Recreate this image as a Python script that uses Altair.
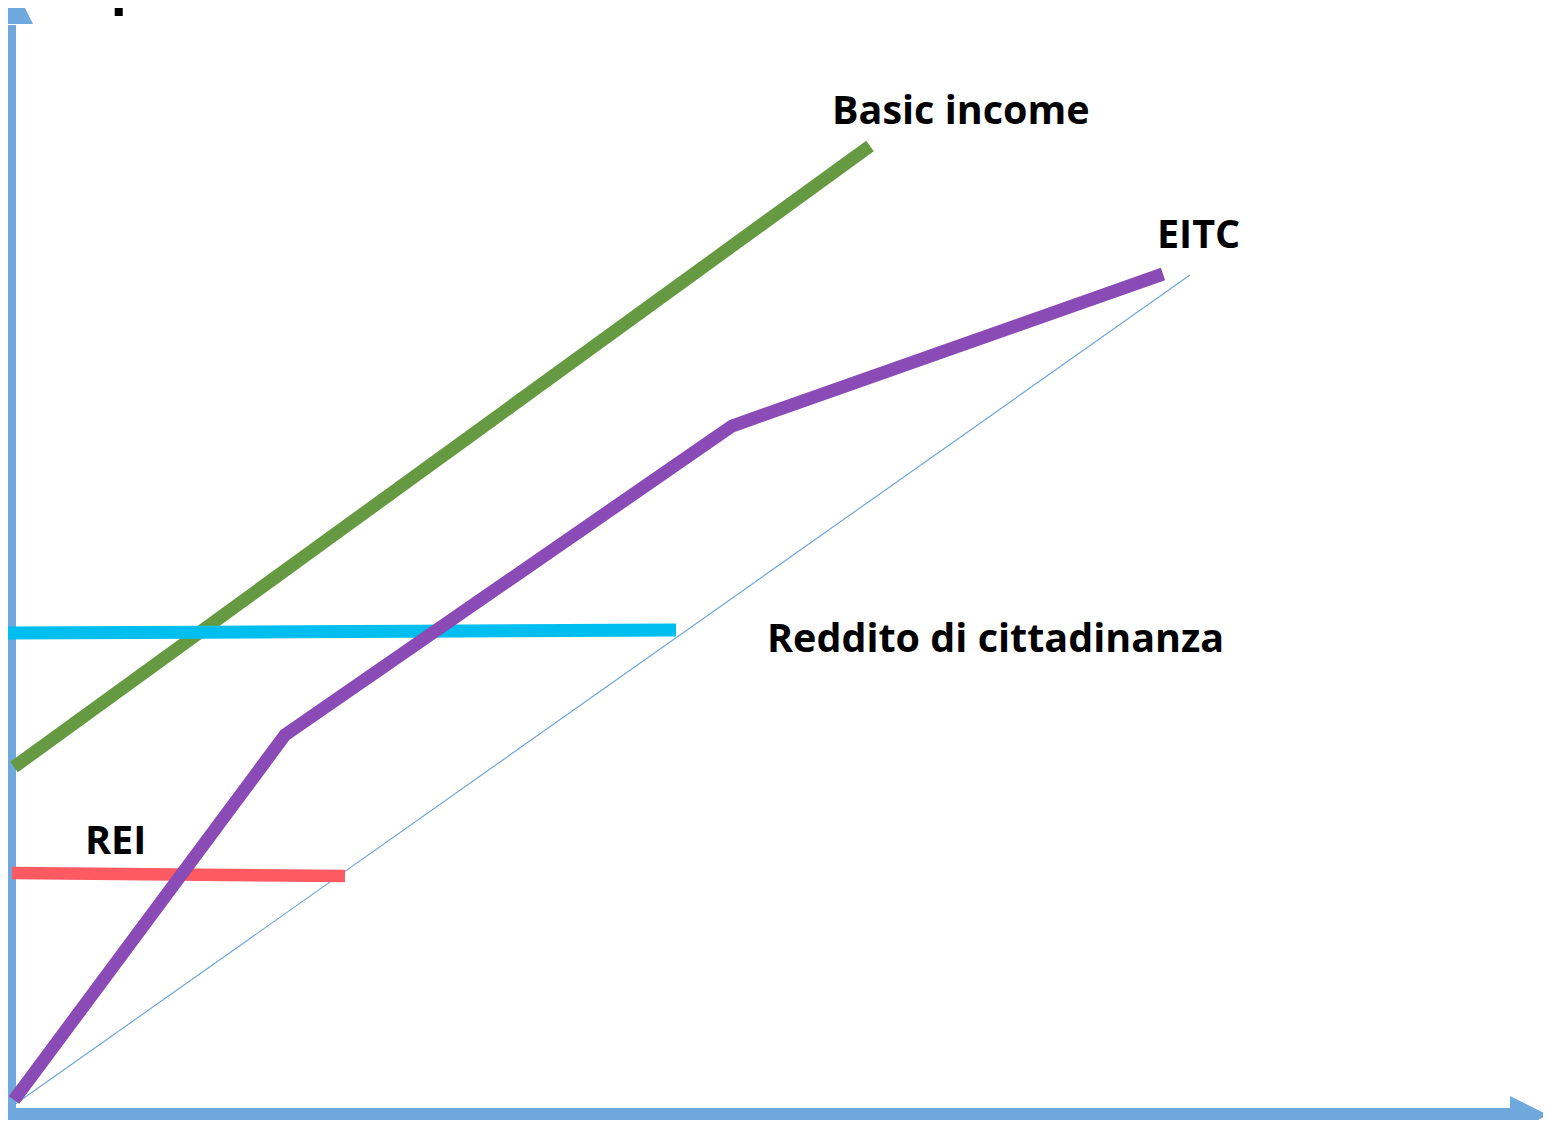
import altair as alt
import pandas as pd

# ---- data (units: gross income on x, disposable income on y) ----
basic_x = [0.2, 85.8]
basic_y = [33.8, 95.9]
eitc_x = [0.2, 27.3, 72.0, 115.1]
eitc_y = [0.5, 37.0, 67.9, 83.1]
rdc_x = [-0.4, 66.4]
rdc_y = [47.2, 47.5]
rei_x = [0.0, 33.3]
rei_y = [23.2, 22.9]
diag_x = [0.2, 117.8]
diag_y = [0.0, 83.0]

yaxis_x = [-0.25, -0.25]
yaxis_y = [-1.7, 108.0]
xaxis_x = [-0.5, 150.1]
xaxis_y = [-1.0, -1.0]
head_x = [0.3, 151.7]
head_y = [109.9, -1.0]
head_dir = ["up", "right"]

labels = ["Basic income", "EITC", "Reddito di cittadinanza", "REI"]
label_x = [82.0, 114.5, 75.5, 7.3]
label_y = [98.1, 85.7, 45.3, 25.1]

title_text = ["disponibile"]
title_x = [2.1]
title_y = [110.2]

W, H = 1535, 1112
XS = alt.Scale(domain=[-0.4, (W - 4) / 10], nice=False, zero=False)
YS = alt.Scale(domain=[(1097 - H) / 10, 109.7], nice=False, zero=False)


def seg(xs, ys):
    return pd.DataFrame({"x": xs, "y": ys, "o": list(range(len(xs)))})


def line(xs, ys, color, width):
    return alt.Chart(seg(xs, ys)).mark_line(
        color=color, strokeWidth=width, strokeCap="butt", strokeJoin="miter", clip=False
    ).encode(
        x=alt.X("x:Q", scale=XS, axis=None),
        y=alt.Y("y:Q", scale=YS, axis=None),
        order="o:Q",
    )


AX = "#6FA8DC"
layers = [
    line(diag_x, diag_y, "#6FA8DC", 1.2),
    line(yaxis_x, yaxis_y, AX, 13),
    line(xaxis_x, xaxis_y, AX, 14),
    line(basic_x, basic_y, "#669A42", 13),
    line(rdc_x, rdc_y, "#00BFF0", 13),
    line(rei_x, rei_y, "#FF5A62", 12.5),
    line(eitc_x, eitc_y, "#8A4BB6", 13),
]

heads = pd.DataFrame({"x": head_x, "y": head_y, "d": head_dir})
up = alt.Chart(heads[heads.d == "up"]).mark_point(
    shape="M -1 1 L 0 -1 L 1 1 Z", filled=True, opacity=1, color=AX, size=1296, clip=False
).encode(x=alt.X("x:Q", scale=XS, axis=None), y=alt.Y("y:Q", scale=YS, axis=None))
right = alt.Chart(heads[heads.d == "right"]).mark_point(
    shape="M -1 -1 L 1 0 L -1 1 Z", filled=True, opacity=1, color=AX, size=1444, clip=False
).encode(x=alt.X("x:Q", scale=XS, axis=None), y=alt.Y("y:Q", scale=YS, axis=None))

lab = alt.Chart(pd.DataFrame({"x": label_x, "y": label_y, "t": labels})).mark_text(
    font="Open Sans", fontWeight="bold", fontSize=39.5, color="#000000",
    align="left", baseline="alphabetic", clip=False
).encode(x=alt.X("x:Q", scale=XS, axis=None), y=alt.Y("y:Q", scale=YS, axis=None), text="t:N")

ttl = alt.Chart(pd.DataFrame({"x": title_x, "y": title_y, "t": title_text})).mark_text(
    font="Open Sans", fontWeight="bold", fontSize=54, color="#000000",
    align="left", baseline="alphabetic", clip=False
).encode(x=alt.X("x:Q", scale=XS, axis=None), y=alt.Y("y:Q", scale=YS, axis=None), text="t:N")

chart = alt.layer(*layers, up, right, lab, ttl).properties(
    width=W, height=H, padding=0, autosize=alt.AutoSizeParams(type="none")
).configure_view(stroke=None)

chart.save("out.html", embed_options={"renderer": "svg", "actions": False})
